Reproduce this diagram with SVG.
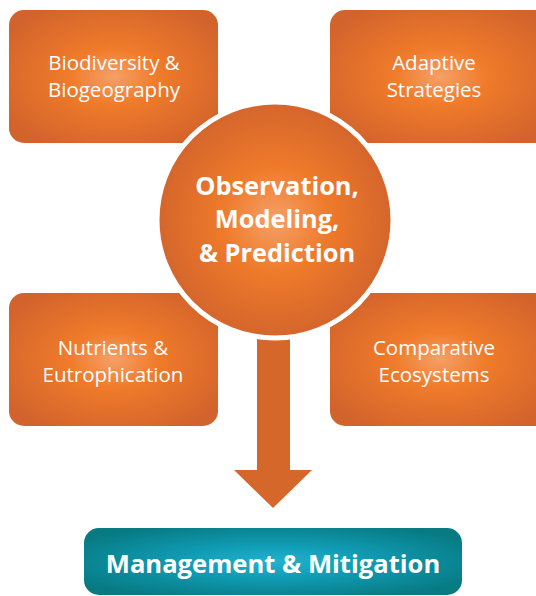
<svg xmlns="http://www.w3.org/2000/svg" width="536" height="596" viewBox="0 0 536 596">
<defs>
<radialGradient id="og" cx="50%" cy="50%" r="60%">
<stop offset="0" stop-color="#f5a068"/>
<stop offset="0.35" stop-color="#f07b2a"/>
<stop offset="1" stop-color="#d3632c"/>
</radialGradient>
<radialGradient id="cg" cx="50%" cy="50%" r="50%">
<stop offset="0" stop-color="#f5a068"/>
<stop offset="0.45" stop-color="#ef7a2a"/>
<stop offset="1" stop-color="#d4652c"/>
</radialGradient>
<radialGradient id="tg" cx="50%" cy="50%" r="60%">
<stop offset="0" stop-color="#22b2cf"/>
<stop offset="0.4" stop-color="#109cb5"/>
<stop offset="1" stop-color="#077a82"/>
</radialGradient>
<style>
.box{fill:url(#og)}
.t{font-family:"Open Sans","Noto Sans",sans-serif;font-size:20.5px;fill:#fff;text-anchor:middle}
.b{font-family:"Open Sans","Noto Sans",sans-serif;font-weight:bold;fill:#fff;text-anchor:middle}
</style>
</defs>
<g id="biodiversity">
<rect class="box" x="9" y="10" width="209" height="133" rx="15"/>
<text class="t" x="114" y="70">Biodiversity &amp;</text>
<text class="t" x="114" y="97">Biogeography</text>
</g>
<g id="adaptive">
<rect class="box" x="330" y="10" width="220" height="133" rx="15"/>
<text class="t" x="434" y="70">Adaptive</text>
<text class="t" x="434" y="97">Strategies</text>
</g>
<g id="nutrients">
<rect class="box" x="9" y="293" width="209" height="133" rx="15"/>
<text class="t" x="113" y="355">Nutrients &amp;</text>
<text class="t" x="113" y="382">Eutrophication</text>
</g>
<g id="comparative">
<rect class="box" x="330" y="293" width="220" height="133" rx="15"/>
<text class="t" x="434" y="355">Comparative</text>
<text class="t" x="434" y="382">Ecosystems</text>
</g>
<g id="connectors">
<path d="M257 330 H290 V470 H312 L273 508 L234 470 H257 Z" fill="#d6672b"/>
</g>
<g id="observation">
<circle cx="275" cy="220" r="118" fill="url(#cg)" stroke="#fff" stroke-width="5"/>
<text class="b" x="277" y="195" font-size="25.4">Observation,</text>
<text class="b" x="277" y="228" font-size="25.4">Modeling,</text>
<text class="b" x="277" y="262" font-size="25.4">&amp; Prediction</text>
</g>
<g id="management">
<rect x="84" y="528" width="378" height="67" rx="15" fill="url(#tg)"/>
<text class="b" x="273" y="573" font-size="25.6">Management &amp; Mitigation</text>
</g>
</svg>
